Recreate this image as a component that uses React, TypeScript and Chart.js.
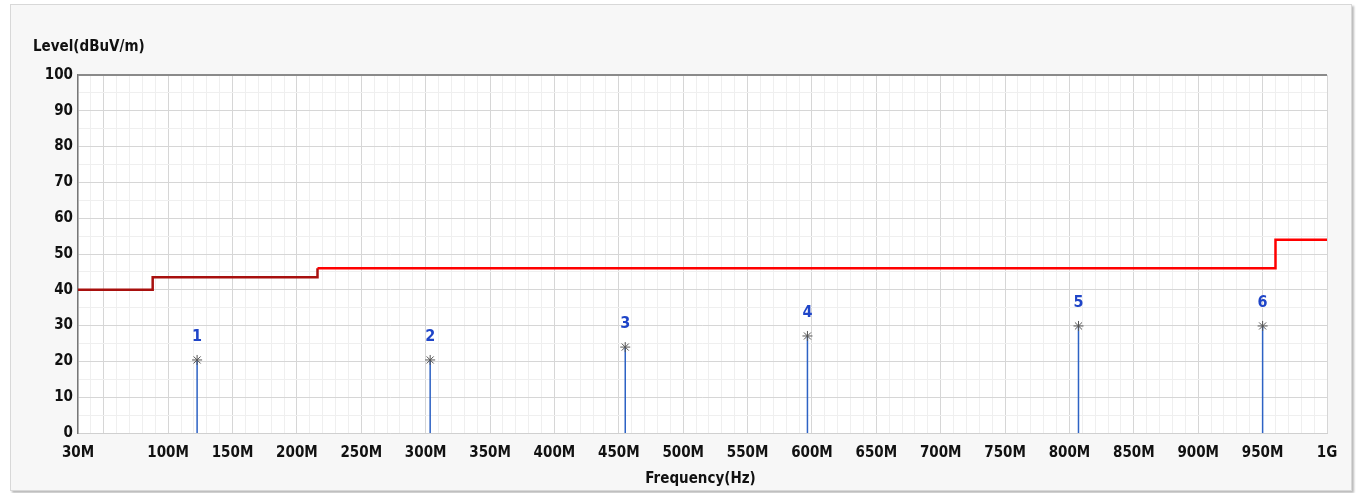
import React, { useEffect, useRef } from "react";
import { Chart, registerables } from "chart.js";

Chart.register(...registerables);

// Limit line (FCC class B style steps)
const limitFreqs = [30, 88, 216, 960, 1000];
const limitLevels = [40, 43.5, 46, 54, 54];

// Marker peaks
const markerNames = ["1", "2", "3", "4", "5", "6"];
const markerFreqs = [122.5, 303.5, 455, 596.5, 807, 950];
const markerLevels = [20.4, 20.4, 24.0, 27.1, 29.9, 29.9];

const yTitle = "Level(dBuV/m)";
const xTitle = "Frequency(Hz)";

const FONT = "'DejaVu Sans Condensed', 'DejaVu Sans', sans-serif";

function xLabel(v: number): string {
  if (v === 30) return "30M";
  if (v === 1000) return "1G";
  if (v >= 100 && v % 50 === 0) return v + "M";
  return "";
}

export default function App() {
  const ref = useRef<HTMLCanvasElement | null>(null);

  useEffect(() => {
    if (!ref.current) return;
    const limitData = limitFreqs.map((f, i) => ({ x: f, y: limitLevels[i] }));
    const stemData: any[] = [];
    markerFreqs.forEach((f, i) => {
      stemData.push({ x: f, y: 0 });
      stemData.push({ x: f, y: markerLevels[i] });
      stemData.push({ x: f, y: null });
    });
    const markerData = markerFreqs.map((f, i) => ({ x: f, y: markerLevels[i] }));

    const decor = {
      id: "decor",
      beforeDraw(chart: any) {
        const { ctx, chartArea } = chart;
        ctx.save();
        ctx.fillStyle = "#ffffff";
        ctx.fillRect(chartArea.left, chartArea.top, chartArea.right - chartArea.left, chartArea.bottom - chartArea.top);
        ctx.restore();
      },
      afterDraw(chart: any) {
        const { ctx, chartArea, scales } = chart;
        ctx.save();
        // top border
        ctx.strokeStyle = "#8a8a8a";
        ctx.lineWidth = 2;
        ctx.beginPath();
        ctx.moveTo(chartArea.left, chartArea.top);
        ctx.lineTo(chartArea.right, chartArea.top);
        ctx.stroke();
        // marker labels
        ctx.fillStyle = "#1f45c8";
        ctx.font = `bold 16px ${FONT}`;
        ctx.textAlign = "center";
        ctx.textBaseline = "middle";
        markerFreqs.forEach((f, i) => {
          const px = scales.x.getPixelForValue(f);
          const py = scales.y.getPixelForValue(markerLevels[i]);
          ctx.fillText(markerNames[i], px, py - 23);
        });
        // titles
        ctx.fillStyle = "#111";
        ctx.font = `bold 15px ${FONT}`;
        ctx.textAlign = "left";
        ctx.fillText(yTitle, chartArea.left - 45, chartArea.top - 28);
        ctx.textAlign = "center";
        ctx.fillText(xTitle, (chartArea.left + chartArea.right) / 2 - 2, chartArea.bottom + 46);
        ctx.restore();
      },
    };

    const chart = new Chart(ref.current, {
      type: "line",
      data: {
        datasets: [
          {
            label: "stems",
            data: stemData,
            borderColor: "#2d62c4",
            borderWidth: 1.5,
            pointRadius: 0,
            spanGaps: false,
            order: 3,
          },
          {
            label: "limit",
            data: limitData,
            stepped: "before",
            borderColor: "#ff0000",
            borderWidth: 2.5,
            pointRadius: 0,
            segment: {
              borderColor: (c: any) => (c.p0.parsed.x < 216 ? "#a8100e" : "#ff0000"),
            },
            order: 2,
          },
          {
            label: "markers",
            data: markerData,
            showLine: false,
            pointStyle: "star",
            pointRadius: 5,
            borderColor: "#555555",
            backgroundColor: "#555555",
            pointBorderWidth: 1,
            order: 1,
          } as any,
        ],
      },
      options: {
        animation: false,
        responsive: false,
        maintainAspectRatio: false,
        layout: { padding: { left: 0, right: 34, top: 75, bottom: 0 } },
        plugins: { legend: { display: false }, tooltip: { enabled: false }, title: { display: false } },
        scales: {
          x: {
            type: "linear",
            min: 30,
            max: 1000,
            afterFit(scale: any) {
              scale.height = 60;
            },
            afterBuildTicks(scale: any) {
              const t = [];
              for (let v = 30; v <= 1000; v += 10) t.push({ value: v });
              scale.ticks = t;
            },
            ticks: {
              autoSkip: false,
              maxRotation: 0,
              padding: 11,
              color: "#111",
              font: { family: FONT, weight: "bold", size: 15 },
              callback: (v: any) => xLabel(Number(v)),
            },
            grid: {
              drawTicks: false,
              color: (c: any) => (c.tick && c.tick.value % 50 === 0 ? "#d6d6d6" : "#efefef"),
              lineWidth: 1,
            },
            border: { color: "#d0d0d0", width: 1 },
          },
          y: {
            min: 0,
            max: 100,
            afterFit(scale: any) {
              scale.width = 78;
            },
            ticks: {
              stepSize: 5,
              autoSkip: false,
              padding: 5,
              color: "#111",
              font: { family: FONT, weight: "bold", size: 15 },
              callback: (v: any) => (Number(v) % 10 === 0 ? String(v) : ""),
            },
            grid: {
              drawTicks: false,
              color: (c: any) => (c.tick && c.tick.value % 10 === 0 ? "#d6d6d6" : "#efefef"),
              lineWidth: 1,
            },
            border: { color: "#777777", width: 1.5 },
          },
        },
      } as any,
      plugins: [decor],
    });
    return () => chart.destroy();
  }, []);

  return (
    <div style={{ position: "absolute", left: 0, top: 0, width: 1361, height: 493, background: "#ffffff" }}>
      <div
        style={{
          position: "absolute",
          left: 10,
          top: 4,
          width: 1340,
          height: 485,
          background: "#f7f7f7",
          border: "1px solid #d8d8d8",
          boxShadow: "2px 2px 2px #bbbbbb",
        }}
      />
      <canvas ref={ref} width={1361} height={493} style={{ position: "absolute", left: 0, top: 0, width: 1361, height: 493 }} />
    </div>
  );
}
